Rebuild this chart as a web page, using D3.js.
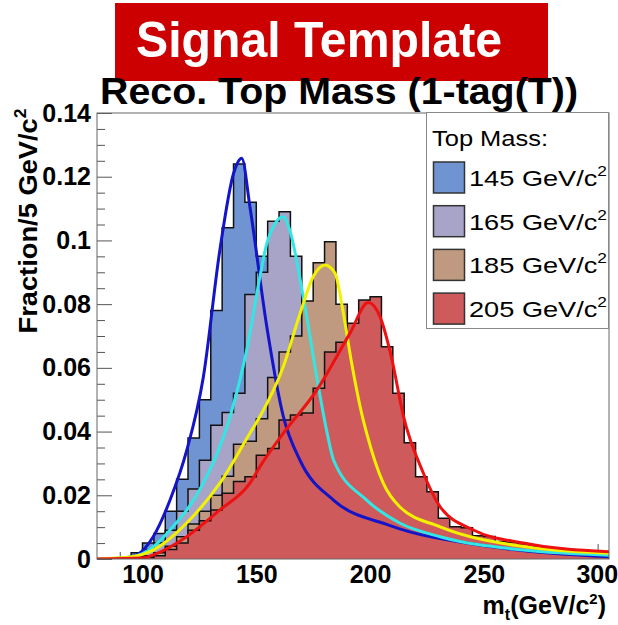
<!DOCTYPE html>
<html>
<head>
<meta charset="utf-8">
<script src="https://cdn.jsdelivr.net/npm/d3@7"></script>
<style>
  body { margin: 0; background: #fff; }
  text { font-family: "Liberation Sans", Arial, sans-serif; }
</style>
</head>
<body>
<svg id="chart"></svg>
<script>
// bin left edges (5 GeV bins)
const binEdges = [80, 85, 90, 95, 100, 105, 110, 115, 120, 125, 130, 135, 140, 145, 150, 155, 160, 165, 170, 175, 180, 185, 190, 195, 200, 205, 210, 215, 220, 225, 230, 235, 240, 245, 250, 255, 260, 265, 270, 275, 280, 285, 290, 295, 300];
const binWidth = 5;

const hist145 = [0, 0, 0, 0.002, 0.005, 0.008, 0.015, 0.025, 0.038, 0.050, 0.078, 0.104, 0.124, 0.112, 0.095, 0.072, 0.050, 0.037, 0.029, 0.023, 0.019, 0.016, 0.014, 0.012, 0.011, 0.010, 0.009, 0.008, 0.007, 0.006, 0.006, 0.005, 0.005, 0.004, 0.004, 0.003, 0.003, 0.003, 0.002, 0.002, 0.002, 0.002, 0.001, 0.001, 0.001];
const hist165 = [0, 0, 0, 0.001, 0.003, 0.005, 0.009, 0.015, 0.022, 0.031, 0.042, 0.046, 0.052, 0.083, 0.090, 0.106, 0.109, 0.095, 0.078, 0.055, 0.040, 0.030, 0.024, 0.019, 0.016, 0.014, 0.012, 0.010, 0.009, 0.008, 0.007, 0.006, 0.005, 0.005, 0.004, 0.004, 0.003, 0.003, 0.003, 0.002, 0.002, 0.002, 0.002, 0.001, 0.001];
const hist185 = [0, 0, 0, 0, 0.001, 0.002, 0.004, 0.007, 0.011, 0.015, 0.020, 0.026, 0.036, 0.037, 0.044, 0.057, 0.065, 0.070, 0.081, 0.093, 0.0996, 0.080, 0.065, 0.048, 0.035, 0.026, 0.020, 0.016, 0.013, 0.011, 0.009, 0.008, 0.007, 0.006, 0.005, 0.005, 0.004, 0.004, 0.003, 0.003, 0.003, 0.002, 0.002, 0.002, 0.002];
const hist205 = [0, 0, 0, 0, 0.0005, 0.001, 0.003, 0.005, 0.009, 0.012, 0.0154, 0.0206, 0.0243, 0.0258, 0.0326, 0.0347, 0.0436, 0.0452, 0.0458, 0.0536, 0.065, 0.068, 0.074, 0.0813, 0.0823, 0.0666, 0.052, 0.0365, 0.0258, 0.0211, 0.0128, 0.0101, 0.0098, 0.0073, 0.0071, 0.0055, 0.0052, 0.0048, 0.004, 0.0038, 0.0033, 0.003, 0.0027, 0.0024, 0.0022];

// fitted template curves as [mass, fraction]
const fit145 = [[80, 0], [90, 0.0002], [97.4, 0.0013], [104.7, 0.007], [112.1, 0.0185], [119.4, 0.034], [126.7, 0.057], [134, 0.097], [140, 0.121], [143.6, 0.1258], [147.2, 0.1106], [154.6, 0.073], [161.9, 0.0447], [169.2, 0.031], [183.9, 0.0185], [208.8, 0.0105], [252.7, 0.0039], [305, 0.0007]];
const fit165 = [[80, 0], [92, 0.0003], [101.8, 0.0023], [112.1, 0.0091], [126.7, 0.0238], [138.5, 0.0447], [145.8, 0.0656], [151.6, 0.0886], [154.6, 0.099], [158, 0.105], [161.9, 0.1074], [164.8, 0.103], [170.7, 0.082], [176.6, 0.057], [181, 0.040], [184, 0.031], [198.5, 0.0185], [213, 0.0113], [230.8, 0.007], [267.4, 0.0028], [305, 0.0012]];
const fit185 = [[80, 0], [95, 0.0007], [104.7, 0.0028], [119.4, 0.0113], [134, 0.0238], [147.2, 0.0395], [151.6, 0.0447], [161.9, 0.0604], [169.2, 0.077], [175, 0.0886], [180.2, 0.0923], [184.6, 0.0897], [188.3, 0.077], [191.9, 0.0615], [196.3, 0.0457], [198.5, 0.0395], [205.8, 0.0238], [213, 0.0164], [230.8, 0.0101], [267.4, 0.0039], [305, 0.0018]];
const fit205 = [[80, 0], [100, 0.0003], [104.7, 0.0013], [119.4, 0.007], [134, 0.0154], [147.2, 0.0238], [151.6, 0.029], [161.9, 0.0395], [176.6, 0.053], [191.2, 0.0709], [199.2, 0.0805], [204.4, 0.076], [209.5, 0.063], [214.6, 0.045], [223.4, 0.027], [230.8, 0.0164], [245.4, 0.0091], [267.4, 0.005], [305, 0.0023]];

const massLabels = ["145", "165", "185", "205"];
const fillColors = ["#7094d2", "#a8a4c8", "#bf9a80", "#cf5a5c"];
const lineColors = ["#1414c8", "#33e6e6", "#f2f200", "#ee1111"];

const yMajorTicks = [0, 0.02, 0.04, 0.06, 0.08, 0.1, 0.12, 0.14];
const yMinorTicks = [0.005, 0.01, 0.015, 0.025, 0.03, 0.035, 0.045, 0.05, 0.055, 0.065, 0.07, 0.075, 0.085, 0.09, 0.095, 0.105, 0.11, 0.115, 0.125, 0.13, 0.135];
const xMajorTicks = [100, 150, 200, 250, 300];
const xMinorTicks = [90, 110, 120, 130, 140, 160, 170, 180, 190, 210, 220, 230, 240, 260, 270, 280, 290];

const W = 618, H = 625;
const frame = { left: 97, right: 609, top: 113, bottom: 559 };

const svg = d3.select("#chart").attr("width", W).attr("height", H);

const x = d3.scaleLinear().domain([80, 305]).range([frame.left, frame.right]);
const y = d3.scaleLinear().domain([0, 0.14]).range([frame.bottom, frame.top]);

// banner
svg.append("rect").attr("x", 115).attr("y", 3).attr("width", 433).attr("height", 78).attr("fill", "#cc0000");
svg.append("text").attr("x", 136).attr("y", 57).attr("fill", "#fff")
  .style("font-size", "50px").style("font-weight", "bold")
  .attr("textLength", 366).attr("lengthAdjust", "spacingAndGlyphs").text("Signal Template");

svg.append("text").attr("x", 100).attr("y", 104)
  .style("font-size", "37px").style("font-weight", "bold")
  .attr("textLength", 478).attr("lengthAdjust", "spacingAndGlyphs").text("Reco. Top Mass (1-tag(T))");

// axes first, histograms cover the ticks
const yMajor = svg.append("g").attr("transform", `translate(${frame.left},0)`)
  .call(d3.axisLeft(y).tickValues(yMajorTicks).tickSize(-15).tickPadding(6)
    .tickFormat(d => d === 0 ? "0" : String(+d.toFixed(2))));
svg.append("g").attr("transform", `translate(${frame.left},0)`)
  .call(d3.axisLeft(y).tickValues(yMinorTicks).tickSize(-8).tickFormat(""));
const xMajor = svg.append("g").attr("transform", `translate(0,${frame.bottom})`)
  .call(d3.axisBottom(x).tickValues(xMajorTicks).tickSize(-15).tickPadding(6));
svg.append("g").attr("transform", `translate(0,${frame.bottom})`)
  .call(d3.axisBottom(x).tickValues(xMinorTicks).tickSize(-7).tickFormat(""));
svg.selectAll(".domain").remove();
svg.selectAll(".tick line").attr("stroke", "#555").attr("stroke-width", 1);
yMajor.selectAll("text").style("font-size", "25px").style("font-weight", "bold").attr("fill", "#000");
xMajor.selectAll("text").style("font-size", "25px").style("font-weight", "bold").attr("fill", "#000");
// last label sits against the page edge, as in the original
xMajor.selectAll(".tick").filter(d => d === 300).select("text").attr("text-anchor", "end").attr("x", 20);

const plot = svg.append("g");
svg.append("clipPath").attr("id", "clip").append("rect")
  .attr("x", frame.left).attr("y", frame.top).attr("width", frame.right - frame.left).attr("height", frame.bottom - frame.top);
plot.attr("clip-path", "url(#clip)");

function stepPath(values) {
  const p = d3.path();
  p.moveTo(x(binEdges[0]), y(0));
  values.forEach((v, i) => {
    p.lineTo(x(binEdges[i]), y(v));
    p.lineTo(x(binEdges[i] + binWidth), y(v));
  });
  p.lineTo(x(binEdges[binEdges.length - 1] + binWidth), y(0));
  return p.toString();
}

[hist145, hist165, hist185, hist205].forEach((h, i) => {
  plot.append("path").attr("d", stepPath(h)).attr("fill", fillColors[i])
    .attr("stroke", "#111").attr("stroke-width", 1.5).attr("stroke-linejoin", "miter");
});

const line = d3.line().x(d => x(d[0])).y(d => y(d[1])).curve(d3.curveMonotoneX);
[fit145, fit165, fit185, fit205].forEach((f, i) => {
  plot.append("path").attr("d", line(f)).attr("fill", "none")
    .attr("stroke", lineColors[i]).attr("stroke-width", 3);
});

// frame
svg.append("rect").attr("x", frame.left).attr("y", frame.top)
  .attr("width", frame.right - frame.left).attr("height", frame.bottom - frame.top)
  .attr("fill", "none").attr("stroke", "#666").attr("stroke-width", 1);

// axis titles
const yTitle = svg.append("text").attr("transform", "translate(37,221) rotate(-90)")
  .attr("text-anchor", "middle").style("font-size", "25px").style("font-weight", "bold")
  .attr("textLength", 225).attr("lengthAdjust", "spacingAndGlyphs");
yTitle.append("tspan").text("Fraction/5 GeV/c");
yTitle.append("tspan").attr("dy", -11).style("font-size", "16px").text("2");

const xTitle = svg.append("text").attr("x", 606).attr("y", 614).attr("text-anchor", "end")
  .style("font-size", "25px").style("font-weight", "bold");
xTitle.append("tspan").text("m");
xTitle.append("tspan").attr("dy", 6).style("font-size", "16px").text("t");
xTitle.append("tspan").attr("dy", -6).text("(GeV/c");
xTitle.append("tspan").attr("dy", -10).style("font-size", "15px").text("2");
xTitle.append("tspan").attr("dy", 10).text(")");

// legend
const legend = svg.append("g");
legend.append("rect").attr("x", 426.5).attr("y", 112.5).attr("width", 182).attr("height", 216)
  .attr("fill", "#fff").attr("stroke", "#888").attr("stroke-width", 1);
legend.append("text").attr("x", 432).attr("y", 146).style("font-size", "22px")
  .attr("textLength", 116).attr("lengthAdjust", "spacingAndGlyphs").text("Top Mass:");
massLabels.forEach((m, i) => {
  const cy = 177.5 + i * 43.7;
  legend.append("rect").attr("x", 433.5).attr("y", cy - 15.5).attr("width", 31).attr("height", 31)
    .attr("fill", fillColors[i]).attr("stroke", "#333").attr("stroke-width", 1.5);
  const t = legend.append("text").attr("x", 469).attr("y", cy + 8.5).style("font-size", "22px")
    .attr("textLength", 138).attr("lengthAdjust", "spacingAndGlyphs");
  t.append("tspan").text(`${m} GeV/c`);
  t.append("tspan").attr("dy", -10).style("font-size", "14px").text("2");
});
</script>
</body>
</html>
